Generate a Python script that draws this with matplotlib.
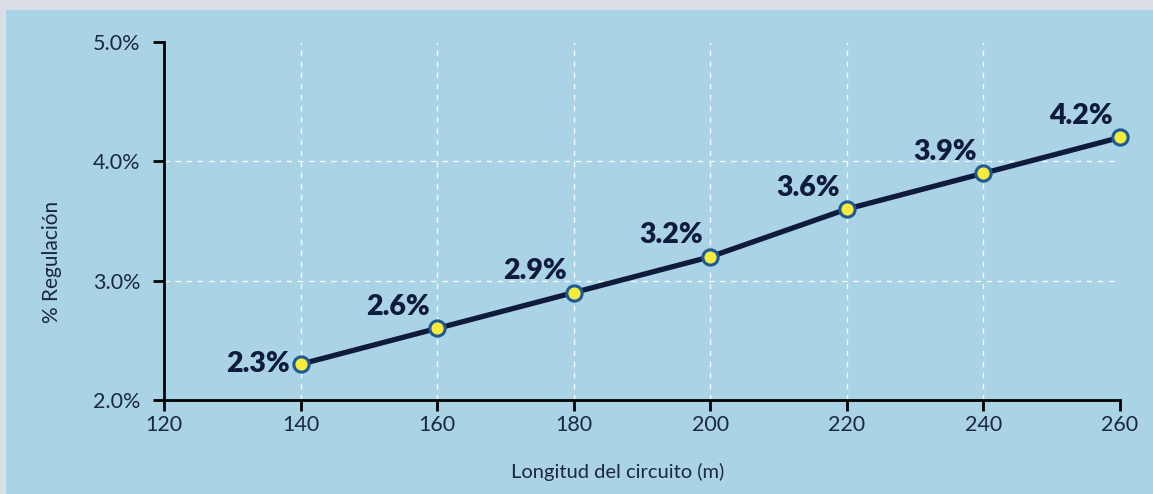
import matplotlib
matplotlib.use("Agg")
import matplotlib.pyplot as plt
from matplotlib.patches import Rectangle

# circuit length (m) vs. voltage regulation (%)
longitud = [140, 160, 180, 200, 220, 240, 260]
regulacion = [2.3, 2.6, 2.9, 3.2, 3.6, 3.9, 4.2]
x_ticks = [120, 140, 160, 180, 200, 220, 240, 260]
y_ticks = [2.0, 3.0, 4.0, 5.0]

BG = "#d9dee7"
PANEL = "#aad3e5"
NAVY = "#0f1b3c"
TEXT = "#1b2744"

plt.rcParams["font.family"] = ["Lato", "DejaVu Sans"]

fig = plt.figure(figsize=(11.53, 4.94), dpi=100, facecolor=BG)
fig.patches.append(Rectangle((6 / 1153, 0), 1, 484 / 494, transform=fig.transFigure,
                             facecolor=PANEL, edgecolor="none", zorder=-10))

ax = fig.add_axes([164 / 1153, 94 / 494, (1120 - 164) / 1153, (400 - 42) / 494])
ax.set_facecolor("none")

ax.plot(longitud, regulacion, color=NAVY, lw=3.8, solid_capstyle="round", zorder=3,
        marker="o", markersize=11, markerfacecolor="#f6ea3c",
        markeredgecolor="#1d5a96", markeredgewidth=2.2, clip_on=False)

for i, (x, y) in enumerate(zip(longitud, regulacion)):
    if i == 0:
        ax.annotate(f"{y:.1f}%", (x, y), xytext=(-8, 0), textcoords="offset points",
                    ha="right", va="center", fontsize=20.5, fontweight="heavy", color=NAVY, zorder=4)
    else:
        ax.annotate(f"{y:.1f}%", (x, y), xytext=(-5, 6), textcoords="offset points",
                    ha="right", va="bottom", fontsize=20.5, fontweight="heavy", color=NAVY, zorder=4)

ax.set_xlim(120, 260)
ax.set_ylim(2.0, 5.0)
ax.set_xticks(x_ticks)
ax.set_yticks(y_ticks)
ax.set_yticklabels([f"{v:.1f}%" for v in y_ticks])

ax.grid(True, color="white", lw=1, linestyle=(0, (4, 4)), alpha=0.85, zorder=1)
ax.set_axisbelow(True)
for g in (ax.xaxis.get_gridlines()[0], ax.xaxis.get_gridlines()[-1],
          ax.yaxis.get_gridlines()[0], ax.yaxis.get_gridlines()[-1]):
    g.set_visible(False)

for side in ("top", "right"):
    ax.spines[side].set_visible(False)
for side in ("left", "bottom"):
    ax.spines[side].set_linewidth(2)
    ax.spines[side].set_color("black")

ax.tick_params(axis="both", direction="out", length=8, width=2, color="black",
               labelsize=15.5, labelcolor=TEXT)
ax.tick_params(axis="x", pad=3)
ax.tick_params(axis="y", pad=9)

ax.set_xlabel("Longitud del circuito (m)", fontsize=14.5, color=TEXT)
ax.set_ylabel("% Regulación", fontsize=15, color=TEXT)
ax.xaxis.set_label_coords(0.474, -0.175)
ax.yaxis.set_label_coords(-0.117, 0.385)
ax.yaxis.label.set_va("center")

fig.savefig("out.png", dpi=100, facecolor=BG)
